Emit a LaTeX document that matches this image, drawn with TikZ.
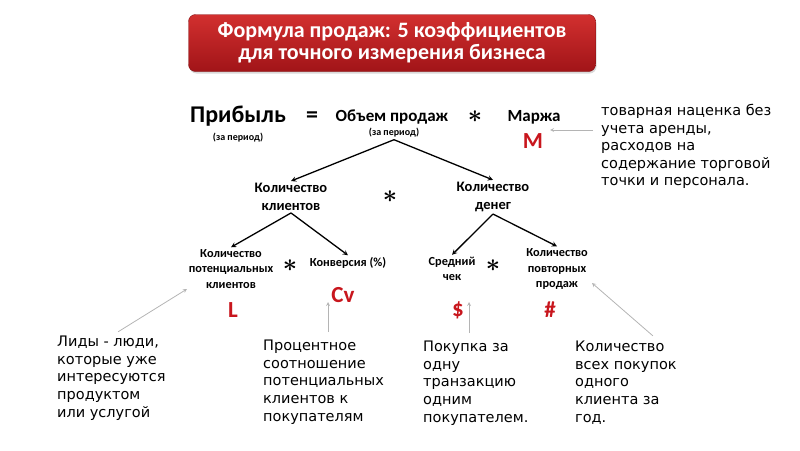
\documentclass[tikz,border=0pt]{standalone}
\usepackage{fontspec}
\setmainfont{Carlito}
\newfontfamily\notefont{DejaVu Sans}
\usetikzlibrary{shadows}
\definecolor{titletop}{HTML}{D2302F}
\definecolor{titlebottom}{HTML}{A11418}
\definecolor{coefred}{HTML}{C8161D}
\definecolor{hintgray}{HTML}{B4B4B4}

\begin{document}
\begin{tikzpicture}[x=1pt, y=-1pt,
    every node/.style={inner sep=2pt},
    banner/.style={rounded corners=7pt, minimum width=407pt, minimum height=57pt,
        top color=titletop, bottom color=titlebottom, draw=titlebottom!80!black, line width=0.4pt,
        text=white, align=center, font=\fontsize{22}{22}\selectfont\bfseries,
        drop shadow={shadow xshift=1pt, shadow yshift=-2pt, opacity=0.3}},
    big/.style={font=\fontsize{24}{24}\selectfont\bfseries, anchor=base},
    head/.style={font=\fontsize{17}{17}\selectfont\bfseries, anchor=base},
    term/.style={align=center, font=\fontsize{14.5}{18}\selectfont\bfseries},
    small/.style={align=center, font=\fontsize{12.3}{15.5}\selectfont\bfseries},
    period/.style={font=\fontsize{10}{10}\selectfont\bfseries},
    times/.style={font=\fontsize{27}{27}\selectfont\boldmath},
    coef/.style={text=coefred, font=\fontsize{23}{23}\selectfont\bfseries},
    note/.style={align=left, anchor=north west, inner sep=0pt,
        font=\notefont\fontsize{14.5}{17.6}\selectfont},
    split/.style={->, >=stealth, line width=1.3pt},
    hint/.style={->, >=stealth, hintgray, line width=0.8pt, shorten <=8pt},
]
\useasboundingbox (0,0) rectangle (800,450);

% title
\node[banner] (title) at (392,43) {Формула продаж: 5 коэффициентов\\для точного измерения бизнеса};

% top formula
\node[big] (profit) at (238,122) {Прибыль};
\node[period] (profitp) at (238,138) {(за период)};
\node[big] (eq) at (312,122) {=};
\node[head] (sales) at (392,121) {Объем продаж};
\node[period] (salesp) at (394,133) {(за период)};
\node[times] (star1) at (475,117) {$\ast$};
\node[head] (margin) at (534,121) {Маржа};
\node[coef, anchor=base] (mlet) at (533,148) {M};

% second level
\node[term] (clients) at (291,197) {Количество\\клиентов};
\node[times] (star2) at (390,197) {$\ast$};
\node[term] (money) at (493,197) {Количество\\денег};

% third level
\node[small] (potential) at (231,269) {Количество\\потенциальных\\клиентов};
\node[times] (star3) at (290,266) {$\ast$};
\node[small] (conv) at (348,263) {Конверсия (\%)};
\node[small] (avgcheck) at (452,269) {Средний\\чек};
\node[times] (star4) at (493,266) {$\ast$};
\node[small] (repeat) at (557,269) {Количество\\повторных\\продаж};

\node[coef] (llet) at (233,310) {L};
\node[coef] (cvlet) at (343,295) {Cv};
\node[coef] (dollar) at (458,310) {\$};
\node[coef] (hash) at (550,310) {\#};

\draw[split] (salesp.south) -- (clients.north);
\draw[split] (salesp.south) -- (money.north);
\draw[split] (clients.south) -- (potential.north);
\draw[split] (clients.south) -- (conv.north);
\draw[split] (money.south) -- (avgcheck.north);
\draw[split] (money.south) -- (repeat.north);

% explanations
\node[note] (marginnote) at (601,104) {товарная наценка без\\учета аренды,\\расходов на\\содержание торговой\\точки и персонала.};
\node[note] (leadnote) at (57,336) {Лиды - люди,\\которые уже\\интересуются\\продуктом\\или услугой};
\node[note] (convnote) at (263,340) {Процентное\\соотношение\\потенциальных\\клиентов к\\покупателям};
\node[note] (buynote) at (423,341) {Покупка за\\одну\\транзакцию\\одним\\покупателем.};
\node[note] (repeatnote) at (575,341) {Количество\\всех покупок\\одного\\клиента за\\год.};

\coordinate (mtip) at (550,130);
\coordinate (ltip) at (187,289);
\coordinate (cvtip) at (328,302);
\coordinate (dollartip) at (469,302);
\coordinate (hashtip) at (592,283);

\draw[hint] (marginnote.west |- mtip) -- (mtip);
\draw[hint] (leadnote.north) -- (ltip);
\draw[hint] (convnote.north -| cvtip) -- (cvtip);
\draw[hint] (buynote.north -| dollartip) -- (dollartip);
\draw[hint] ([xshift=-18pt]repeatnote.north east) -- (hashtip);
\end{tikzpicture}
\end{document}
